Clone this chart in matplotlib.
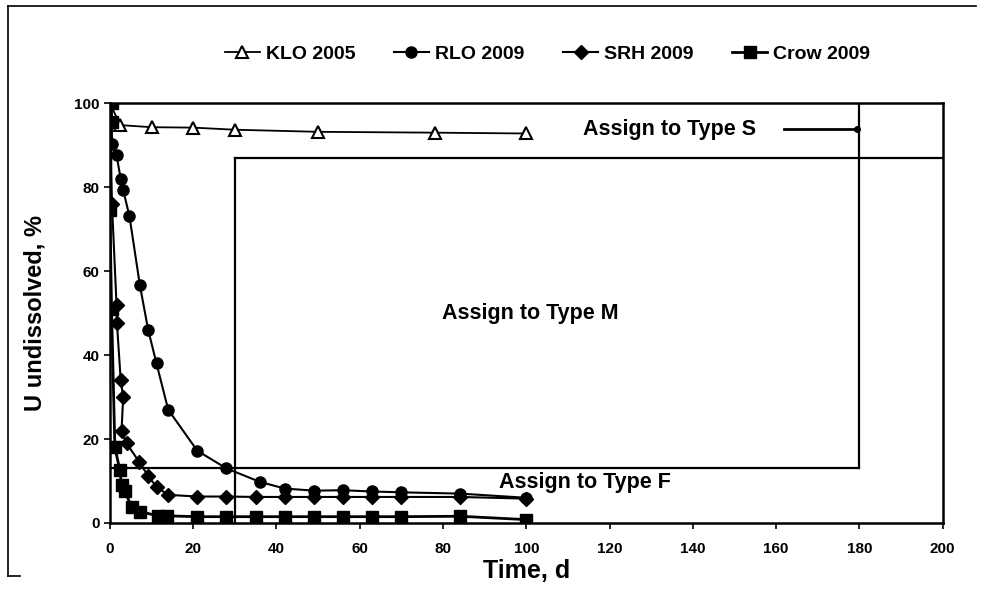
import matplotlib
matplotlib.use("Agg")
import matplotlib.pyplot as plt
from matplotlib.lines import Line2D

plt.rcParams["font.family"] = ["Liberation Sans", "DejaVu Sans"]
plt.rcParams["font.weight"] = "bold"

# KLO 2005 (open triangles)
klo_t = [0, 2.5, 10, 20, 30, 50, 78, 100]
klo_v = [100, 94.8, 94.3, 94.2, 93.7, 93.2, 93.0, 92.8]

# RLO 2009 (filled circles)
rlo_t = [0, 0.6, 1.6, 2.6, 3.2, 4.7, 7.2, 9.2, 11.2, 14, 21, 28, 36, 42, 49, 56, 63, 70, 84, 100]
rlo_v = [100, 90.4, 87.6, 82, 79.3, 73.1, 56.7, 46, 38, 27, 17.2, 13, 9.8, 8.2, 7.7, 7.8, 7.5, 7.3, 7.0, 6.0]

# SRH 2009 (filled diamonds)
srh_t = [0, 0.5, 1.6, 1.7, 2.6, 3.2, 2.8, 4, 7, 9.2, 11.2, 14, 21, 28, 35, 42, 49, 56, 63, 70, 84, 100]
srh_v = [100, 76, 52, 47.6, 34, 30, 22, 19, 14.6, 11.2, 8.6, 6.7, 6.3, 6.3, 6.2, 6.2, 6.2, 6.2, 6.2, 6.2, 6.2, 5.8]

# Crow 2009 (filled squares)
crow_t = [0.4, 0.4, 0, 0.4, 1.2, 2.4, 2.8, 3.6, 5.2, 7.2, 11.6, 13.7, 21, 28, 35, 42, 49, 56, 63, 70, 84, 100]
crow_v = [100, 95.5, 74.5, 51, 18, 12.6, 9, 7.5, 3.9, 2.7, 1.7, 1.7, 1.5, 1.5, 1.5, 1.5, 1.5, 1.5, 1.5, 1.5, 1.6, 0.8]

x_ticks = [0, 20, 40, 60, 80, 100, 120, 140, 160, 180, 200]
y_ticks = [0, 20, 40, 60, 80, 100]

# type boundaries (in data units)
f_limit = 13
s_limit = 87
m_start = 30
m_end = 180

fig = plt.figure(figsize=(9.81, 5.97), dpi=100)
ax = fig.add_axes([0.112, 0.124, 0.849, 0.703])

ax.plot(klo_t, klo_v, color="black", lw=1.3, marker="^", ms=8, mfc="white", mec="black", mew=1.5,
        label="KLO 2005", zorder=3)
ax.plot(rlo_t, rlo_v, color="black", lw=1.5, marker="o", ms=8, label="RLO 2009", zorder=4)
ax.plot(srh_t, srh_v, color="black", lw=1.5, marker="D", ms=7, label="SRH 2009", zorder=4)
ax.plot(crow_t, crow_v, color="black", lw=2, marker="s", ms=8, label="Crow 2009", zorder=4)

# assignment boxes
ax.plot([0, m_end], [f_limit, f_limit], color="black", lw=1.6, zorder=2)
ax.plot([m_end, m_end], [f_limit, 100], color="black", lw=1.6, zorder=2)
ax.plot([m_start, m_start], [0, s_limit], color="black", lw=1.6, zorder=2)
ax.plot([m_start, 200], [s_limit, s_limit], color="black", lw=1.6, zorder=2)

ax.text(134.5, 93.8, "Assign to Type S", ha="center", va="center", fontsize=15.5, fontweight="bold")
ax.plot([162, 179.5], [93.8, 93.8], color="black", lw=2)
ax.plot([179.5], [93.8], marker="o", color="black", ms=4)
ax.text(101, 50, "Assign to Type M", ha="center", va="center", fontsize=15.5, fontweight="bold")
ax.text(114, 9.6, "Assign to Type F", ha="center", va="center", fontsize=15.5, fontweight="bold")

ax.set_xlim(0, 200)
ax.set_ylim(0, 100)
ax.set_xticks(x_ticks)
ax.set_yticks(y_ticks)
ax.tick_params(direction="out", length=4, width=1.2, labelsize=11)
ax.tick_params(axis="x", pad=10)
for lab in ax.get_xticklabels() + ax.get_yticklabels():
    lab.set_fontweight("bold")
for sp in ax.spines.values():
    sp.set_linewidth(1.8)

ax.set_xlabel("Time, d", fontsize=18, fontweight="bold", labelpad=2)
ax.set_ylabel("U undissolved, %", fontsize=17, fontweight="bold", labelpad=20)

fig.legend(*ax.get_legend_handles_labels(), loc="center", bbox_to_anchor=(0.558, 0.91), ncol=4,
           frameon=False, handlelength=1.8, handletextpad=0.3, columnspacing=2.0,
           prop={"weight": "bold", "size": 14})

# scanned page border
fig.add_artist(Line2D([0.008, 0.008], [0.035, 0.99], color="black", lw=1.2))
fig.add_artist(Line2D([0.008, 0.995], [0.99, 0.99], color="black", lw=1.2))
fig.add_artist(Line2D([0.008, 0.02], [0.035, 0.035], color="black", lw=1.2))

fig.savefig("out.png", dpi=100)
